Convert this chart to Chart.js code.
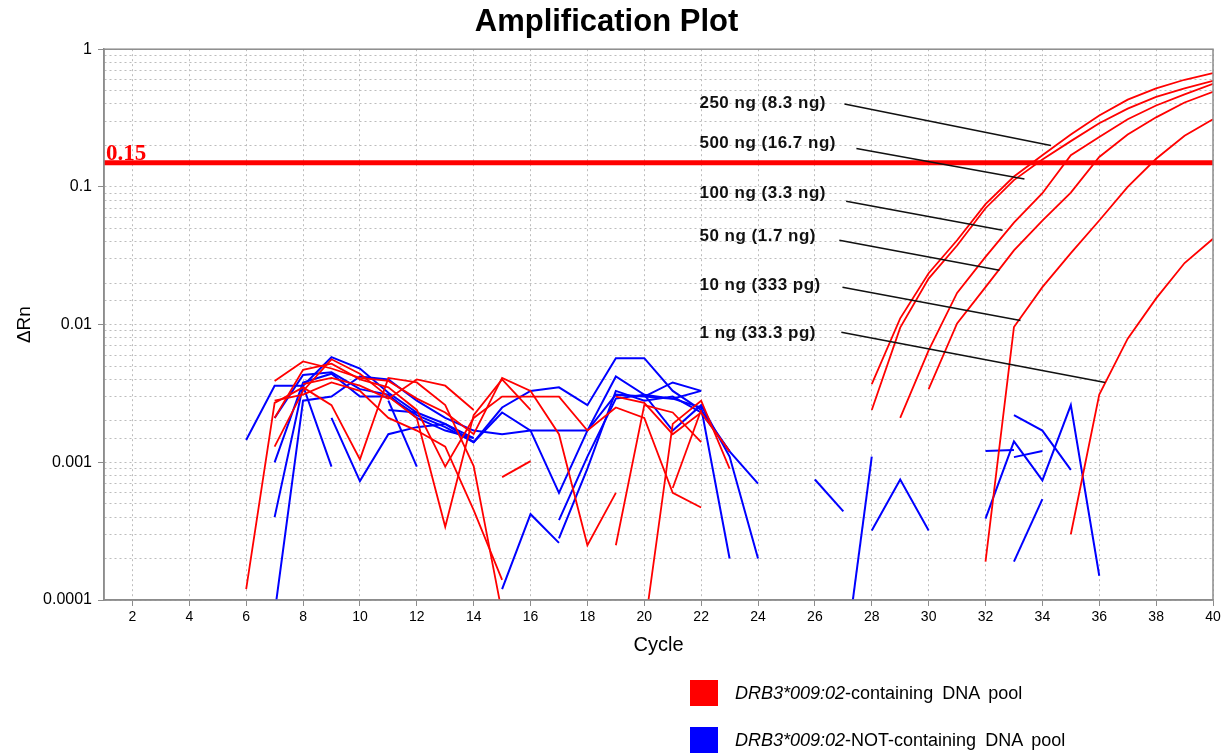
<!DOCTYPE html>
<html>
<head>
<meta charset="utf-8">
<title>Amplification Plot</title>
<script src="https://cdn.jsdelivr.net/npm/chart.js@4.4.1/dist/chart.umd.min.js"></script>
<style>
  body { margin: 0; background: #fff; }
  #wrap { position: relative; width: 1225px; height: 756px; }
  #legend { position: absolute; left: 690px; top: 680px; font-family: Arial, "Liberation Sans", sans-serif; font-size: 18px; color: #000; }
  .row { height: 47px; display: flex; align-items: flex-start; white-space: pre; word-spacing: 4px; }
  .sw { width: 28px; height: 26px; margin-right: 17px; flex: none; }
  .row span.txt { line-height: 26px; }
</style>
</head>
<body>
<div id="wrap">
  <canvas id="ampChart" width="1225" height="756"></canvas>
  <div id="legend"></div>
</div>
<script>
// --- axis / threshold ---
const xTicks = [2, 4, 6, 8, 10, 12, 14, 16, 18, 20, 22, 24, 26, 28, 30, 32, 34, 36, 38, 40];
const yMajorLabels = ['1', '0.1', '0.01', '0.001', '0.0001'];
const thresholdValue = 0.15;
const thresholdLabel = '0.15';

// --- red wells (DRB3*009:02-containing), amplification part ---
const ampA = [0.0037, 0.0111, 0.0236, 0.041, 0.075, 0.119, 0.17, 0.24, 0.33, 0.43, 0.52, 0.60, 0.67];
const ampB = [0.0024, 0.0095, 0.0216, 0.0375, 0.070, 0.112, 0.158, 0.215, 0.29, 0.37, 0.45, 0.52, 0.59];
const ampC = [0.0021, 0.0065, 0.017, 0.031, 0.055, 0.090, 0.17, 0.23, 0.31, 0.39, 0.47, 0.56];
const ampD = [0.0034, 0.0102, 0.0187, 0.0346, 0.057, 0.091, 0.165, 0.24, 0.32, 0.41, 0.49];
const ampE = [0.00019, 0.0096, 0.0187, 0.033, 0.057, 0.10, 0.16, 0.235, 0.31];
const ampF = [0.0003, 0.0031, 0.0079, 0.0155, 0.028, 0.042];
const ampStart = [28, 28, 29, 30, 32, 35];

// --- red wells, baseline noise (start cycle in redStart) ---
const red1 = [0.00012, 0.0027, 0.0035, 0.0026, 0.00105, 0.0041, 0.0038, 0.0026, 0.00094, 0.00008];
const red2 = [0.0039, 0.0054, 0.0048, 0.0041, 0.0039, 0.0029, 0.0023, 0.0016, 0.0041, 0.0033, 0.0016, 0.00025, 0.0006];
const red3 = [0.0021, 0.0047, 0.0052, 0.0040, 0.0035, 0.0024, 0.00093, 0.0021, 0.0030, 0.0030, 0.0030, 0.0017, 0.0025, 0.0021, 0.0006, 0.00047];
const red4 = [0.0013, 0.0033, 0.0056, 0.0044, 0.0030, 0.0021, 0.00034, 0.0022, 0.0040, 0.0024];
const red5 = [0.0028, 0.0031, 0.0038, 0.0033, 0.0021, 0.0017, 0.0013, 0.00045, 0.00014];
const red6 = [0.0037, 0.0041, 0.0036, 0.0029, 0.0040, 0.0036, 0.0024];
const red7 = [0.0030, 0.0027, 0.0016, 0.0023, 0.0012];
const red8 = [0.00006, 0.0019, 0.0028, 0.0009];
const red9 = [0.00078, 0.00102];
const red10 = [0.00025, 0.0026, 0.0023, 0.0014];
const red11 = [0.00065, 0.0024];
const redStart = [6, 7, 7, 7, 7, 8, 19, 20, 15, 19, 21];

// --- blue wells (DRB3*009:02-NOT-containing) ---
const blue1 = [0.00145, 0.0036, 0.0036, 0.00093];
const blue2 = [0.001, 0.0038, 0.0044, 0.0030, 0.0030, 0.0022, 0.0018, 0.0014, 0.0023, 0.0017, 0.0006, 0.0017, 0.0042, 0.0031, 0.0017, 0.0026, 0.0011, 0.0002];
const blue3 = [0.0004, 0.0036, 0.0058, 0.0048, 0.0032, 0.0023, 0.0019, 0.0014, 0.0025, 0.0033, 0.0035, 0.0026, 0.0057, 0.0057, 0.0033, 0.0024, 0.0012, 0.0007];
const blue4 = [0.00008, 0.0028, 0.0030, 0.0042, 0.0040, 0.0028, 0.0021, 0.0017, 0.0016, 0.0017, 0.0017, 0.0017, 0.0031, 0.0030, 0.0029, 0.0033];
const blue5 = [0.0021, 0.0043, 0.0045, 0.0034, 0.0031, 0.0021, 0.0017, 0.0015];
const blue6 = [0.0021, 0.00073, 0.0016, 0.0018, 0.0019, 0.0015];
const blue7 = [0.0024, 0.0023];
const blue8 = [0.0028, 0.00093];
const blue9 = [0.00012, 0.00042, 0.00026];
const blue10 = [0.00038, 0.0011, 0.0029, 0.0031, 0.0029, 0.0025, 0.0002];
const blue11 = [0.00028, 0.0009, 0.0033, 0.0028, 0.0030, 0.0023, 0.0012];
const blue12 = [0.0030, 0.0038, 0.0033];
const blue13 = [0.00075, 0.00044];
const blue14 = [0.00003, 0.0011];
const blue15 = [0.00032, 0.00075, 0.00032];
const blue16 = [0.00121, 0.00123];
const blue17 = [0.00109, 0.00121];
const blue18 = [0.00039, 0.00142, 0.00074, 0.0026, 0.00015];
const blue19 = [0.0022, 0.0017, 0.00088];
const blue20 = [0.00019, 0.00054];
const blueStart = [6, 7, 7, 7, 7, 9, 11, 11, 15, 17, 17, 20, 26, 27, 28, 32, 33, 32, 33, 33];

// --- callouts: text, label anchor, leader line (cycle, ΔRn) ---
const calloutText = ['250 ng (8.3 ng)', '500 ng (16.7 ng)', '100 ng (3.3 ng)', '50 ng (1.7 ng)', '10 ng (333 pg)', '1 ng (33.3 pg)'];
const calloutLabelAt = [[21.94, 0.405], [21.94, 0.207], [21.94, 0.0898], [21.94, 0.0438], [21.94, 0.0193], [21.94, 0.00863]];
const calloutFrom = [[27.04, 0.40], [27.46, 0.19], [27.1, 0.0786], [26.86, 0.041], [26.97, 0.0187], [26.93, 0.0088]];
const calloutTo = [[34.3, 0.2], [33.37, 0.114], [32.6, 0.0484], [32.49, 0.0248], [33.23, 0.0107], [36.21, 0.0038]];

// --- legend ---
const legendName = ['DRB3*009:02', 'DRB3*009:02'];
const legendSuffix = ['-containing DNA pool', '-NOT-containing DNA pool'];
const legendColor = ['#ff0000', '#0000ff'];

const FONT = 'Arial, "Liberation Sans", sans-serif';
const RED = '#ff0000';
const BLUE = '#0000ff';
const AXIS = '#8c8c8c';

function points(start, vals) {
    return vals.map((v, i) => ({ x: start + i, y: v }));
}
function isMajor(v) {
    const e = Math.log10(v);
    return Math.abs(e - Math.round(e)) < 1e-9;
}

const datasets = [];
[ampA, ampB, ampC, ampD, ampE, ampF].forEach((vals, i) => {
    datasets.push({ data: points(ampStart[i], vals), borderColor: RED, borderWidth: 1.8 });
});
[red1, red2, red3, red4, red5, red6, red7, red8, red9, red10, red11].forEach((vals, i) => {
    datasets.push({ data: points(redStart[i], vals), borderColor: RED, borderWidth: 1.8 });
});
[blue1, blue2, blue3, blue4, blue5, blue6, blue7, blue8, blue9, blue10,
 blue11, blue12, blue13, blue14, blue15, blue16, blue17, blue18, blue19, blue20].forEach((vals, i) => {
    datasets.push({ data: points(blueStart[i], vals), borderColor: BLUE, borderWidth: 2 });
});
// threshold line across the whole run
datasets.push({ data: [{ x: 1, y: thresholdValue }, { x: 40, y: thresholdValue }], borderColor: RED, borderWidth: 5 });

// frame, threshold label and the callouts with their leader lines
const overlay = {
    id: 'overlay',
    afterDatasetsDraw(chart) {
        const { ctx, chartArea: a, scales: { x, y } } = chart;
        ctx.save();
        ctx.strokeStyle = AXIS;
        ctx.lineWidth = 1.5;
        ctx.strokeRect(a.left, a.top, a.right - a.left, a.bottom - a.top);

        ctx.strokeStyle = '#111';
        ctx.lineWidth = 1.6;
        calloutText.forEach((t, i) => {
            ctx.beginPath();
            ctx.moveTo(x.getPixelForValue(calloutFrom[i][0]), y.getPixelForValue(calloutFrom[i][1]));
            ctx.lineTo(x.getPixelForValue(calloutTo[i][0]), y.getPixelForValue(calloutTo[i][1]));
            ctx.stroke();
        });
        ctx.fillStyle = '#111';
        ctx.font = 'bold 17px ' + FONT;
        ctx.textBaseline = 'middle';
        ctx.textAlign = 'left';
        if ('letterSpacing' in ctx) ctx.letterSpacing = '0.5px';
        calloutText.forEach((t, i) => {
            ctx.fillText(t, x.getPixelForValue(calloutLabelAt[i][0]), y.getPixelForValue(calloutLabelAt[i][1]));
        });
        if ('letterSpacing' in ctx) ctx.letterSpacing = '0px';

        ctx.fillStyle = RED;
        ctx.font = 'bold 23px "Liberation Serif", "Times New Roman", serif';
        ctx.textBaseline = 'alphabetic';
        ctx.fillText(thresholdLabel, a.left + 2, y.getPixelForValue(thresholdValue) - 3);
        ctx.restore();
    }
};

const ampCtx = document.getElementById('ampChart').getContext('2d');
new Chart(ampCtx, {
    type: 'line',
    data: { datasets },
    options: {
        responsive: false,
        animation: false,
        elements: { point: { radius: 0, hoverRadius: 0 }, line: { tension: 0, fill: false } },
        layout: { padding: { left: 0, right: 12, top: 0, bottom: 96 } },
        scales: {
            x: {
                type: 'linear', min: 1, max: 40,
                afterBuildTicks: s => { s.ticks = xTicks.map(v => ({ value: v })); },
                afterFit: s => { s.height = 60; },
                ticks: { autoSkip: false, maxRotation: 0, padding: 3, color: '#000', font: { family: FONT, size: 14 } },
                grid: { color: '#bdbdbd', lineWidth: 1, tickLength: 6, tickColor: AXIS },
                border: { color: AXIS, width: 1.5, dash: [2, 3] },
                title: { display: true, text: 'Cycle', color: '#000', font: { family: FONT, size: 20 }, padding: { top: 4, bottom: 3 } }
            },
            y: {
                type: 'logarithmic', min: 0.0001, max: 1,
                afterFit: s => { s.width = 104; },
                ticks: {
                    autoSkip: false, padding: 6, color: '#000', font: { family: FONT, size: 16 },
                    callback: v => isMajor(v) ? yMajorLabels[-Math.round(Math.log10(v))] : ''
                },
                grid: {
                    color: '#bdbdbd', lineWidth: 1, tickLength: 6,
                    tickColor: c => (c.tick && isMajor(c.tick.value)) ? AXIS : 'rgba(0,0,0,0)'
                },
                border: { color: AXIS, width: 1.5, dash: [2, 3] },
                title: { display: true, text: 'ΔRn', color: '#000', font: { family: FONT, size: 19 }, padding: { top: 13, bottom: 0 } }
            }
        },
        plugins: {
            legend: { display: false },
            tooltip: { enabled: false },
            title: {
                display: true, text: 'Amplification Plot', color: '#000',
                font: { family: FONT, size: 31, weight: 'bold' }, padding: { top: 4, bottom: 8 }
            }
        }
    },
    plugins: [overlay]
});

// HTML legend (mixed italic / upright text)
const legendEl = document.getElementById('legend');
legendName.forEach((name, i) => {
    const row = document.createElement('div');
    row.className = 'row';
    const sw = document.createElement('div');
    sw.className = 'sw';
    sw.style.background = legendColor[i];
    const txt = document.createElement('span');
    txt.className = 'txt';
    const it = document.createElement('i');
    it.textContent = name;
    txt.appendChild(it);
    txt.appendChild(document.createTextNode(legendSuffix[i]));
    row.appendChild(sw);
    row.appendChild(txt);
    legendEl.appendChild(row);
});
</script>
</body>
</html>
